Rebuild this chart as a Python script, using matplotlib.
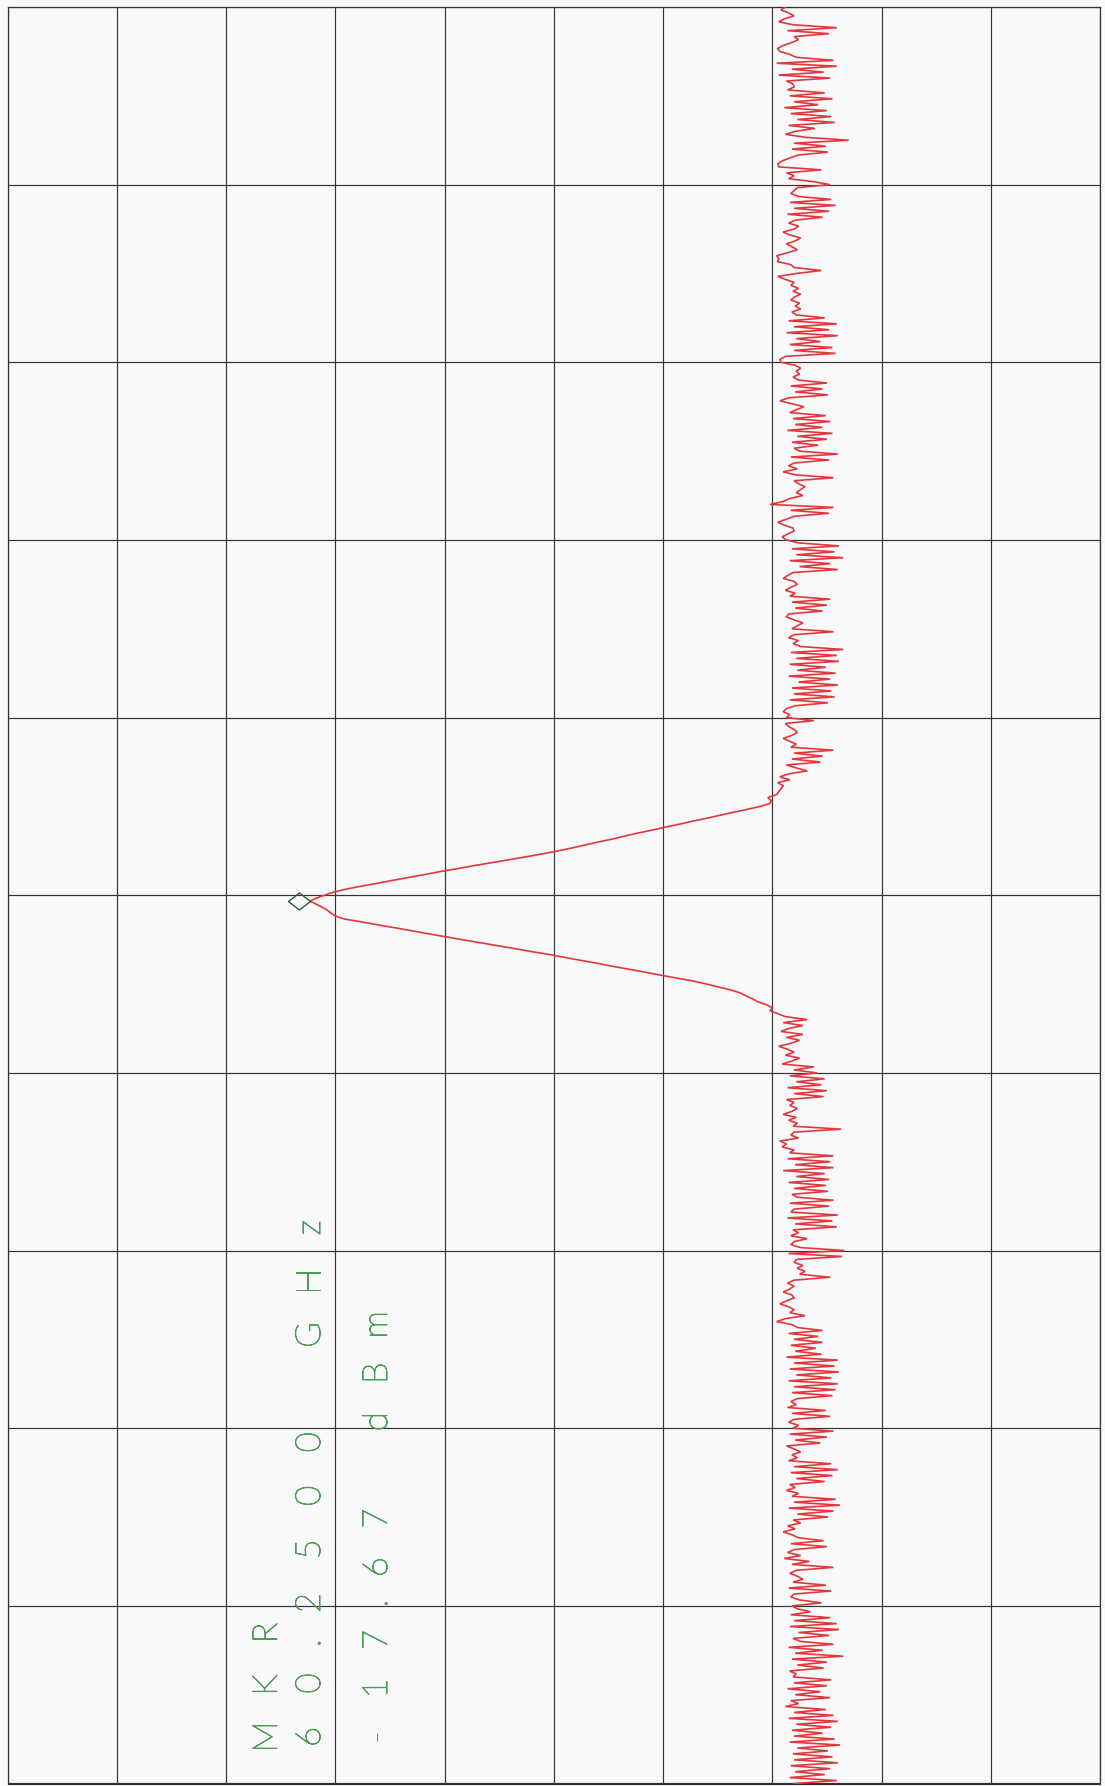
import numpy as np
import matplotlib
matplotlib.use("Agg")
import matplotlib.pyplot as plt
import matplotlib.patheffects as pe
from matplotlib.markers import MarkerStyle

# ---------------- data ----------------
START_GHZ = 60.20
STOP_GHZ = 60.30
REF_LEVEL_DBM = 10.0
DB_PER_DIV = 10.0
N_DIV = 10

# trace amplitude (dBm), listed from the top of the (rotated) plot downwards
trace_upper_noise_dbm = [
    -61.2, -60.8, -61.5, -62.0, -61.1, -60.6, -61.9, -65.9, -61.4, -65.2,
    -62.0, -62.4, -61.8, -61.0, -60.5, -60.7, -61.6, -62.2, -65.6, -60.4,
    -65.9, -61.8, -64.7, -60.6, -65.3, -61.3, -61.9, -62.0, -61.4, -64.8,
    -61.6, -65.5, -62.0, -64.2, -61.1, -65.0, -61.7, -65.4, -62.3, -65.7,
    -61.5, -63.9, -62.1, -61.2, -63.0, -67.0, -62.0, -64.9, -61.8, -65.1,
    -62.4, -61.6, -60.9, -60.5, -60.6, -64.5, -61.3, -62.0, -61.5, -63.8,
    -65.3, -62.3, -62.0, -61.7, -62.4, -65.4, -61.6, -65.8, -62.0, -65.2,
    -61.4, -64.6, -62.1, -61.5, -62.4, -62.0, -61.0, -61.6, -62.6, -62.1,
    -61.3, -61.8, -62.3, -61.4, -60.4, -60.6, -60.5, -61.7, -62.0, -64.5,
    -62.2, -60.5, -61.2, -62.0, -61.7, -62.4, -61.9, -62.6, -62.0, -61.7,
    -62.5, -62.1, -62.6, -61.8, -62.2, -64.8, -61.5, -65.9, -62.0, -65.2,
    -61.3, -66.0, -62.2, -64.4, -61.6, -65.5, -62.0, -65.8, -61.2, -60.7,
    -60.8, -62.1, -62.6, -62.2, -62.5, -61.9, -62.4, -65.0, -61.7, -64.6,
    -62.1, -65.1, -61.5, -60.7, -61.8, -62.9, -62.2, -61.6, -64.9, -61.9,
    -65.3, -62.1, -64.6, -61.4, -65.5, -62.3, -65.0, -61.8, -64.2, -62.0,
    -62.5, -66.0, -61.7, -65.2, -62.0, -61.5, -62.3, -61.0, -62.1, -65.6,
    -62.0, -62.4, -63.0, -62.6, -62.2, -62.8, -61.6, -61.0, -59.8, -65.6,
    -61.7, -65.2, -62.0, -61.3, -60.5, -61.1, -61.9, -62.0, -61.4, -60.9,
    -61.3, -62.4, -66.1, -61.8, -65.7, -62.2, -66.5, -61.6, -65.3, -62.5,
    -66.0, -61.9, -61.4, -61.0, -62.0, -62.3, -61.7, -61.2, -62.1, -61.6,
    -65.3, -61.8, -65.0, -62.1, -64.6, -61.5, -61.3, -62.0, -62.8, -62.3,
    -61.8, -65.6, -62.0, -61.5, -62.4, -61.9, -62.6, -66.5, -61.7, -65.9,
    -62.2, -66.1, -61.6, -64.9, -62.3, -65.8, -61.5, -65.3, -62.4, -66.0,
    -61.8, -65.4, -62.0, -65.7, -61.6, -65.1, -62.1, -61.3, -61.0, -61.6,
    -61.3, -63.8, -61.2, -61.5, -62.0, -62.3, -61.8, -61.0, -61.6, -62.2,
    -61.7, -65.6, -62.0, -64.6, -61.8, -64.4, -61.3, -62.2, -63.2, -61.5,
    -60.7, -61.6, -60.5, -61.0,
]

trace_signal_dbm = [
    -60.8, -60.6, -60.4, -59.6, -59.9, -59.8, -58.9, -57.7, -56.4, -55.2,
    -54.0, -52.7, -51.5, -50.2, -49.0, -47.7, -46.5, -45.4, -44.1, -42.9,
    -41.7, -40.4, -39.0, -37.5, -35.9, -34.3, -32.7, -31.2, -29.6, -28.2,
    -26.7, -25.2, -23.8, -22.3, -20.9, -19.8, -19.0, -18.25, -17.67, -18.25,
    -18.8, -19.25, -19.6, -20.0, -20.8, -22.4, -23.9, -25.5, -27.0, -28.5,
    -30.1, -31.6, -33.2, -34.8, -36.4, -37.9, -39.6, -41.0, -42.5, -44.0,
    -45.4, -46.9, -48.4, -49.8, -51.3, -52.8, -54.0, -55.1, -56.2, -57.1,
    -57.6, -58.2, -58.7, -59.5, -60.0, -59.8, -60.5,
]

trace_lower_noise_dbm = [
    -61.2, -63.2, -61.0, -62.8, -61.5, -60.8, -62.8, -61.3, -62.5, -61.7,
    -60.6, -61.4, -62.0, -61.2, -62.5, -61.8, -60.9, -63.8, -62.0, -64.1,
    -61.6, -64.8, -62.2, -64.5, -61.4, -65.0, -62.0, -64.7, -61.3, -62.0,
    -61.6, -62.3, -61.8, -61.0, -62.2, -61.5, -62.3, -61.9, -66.3, -62.0,
    -61.7, -62.4, -60.7, -61.3, -60.9, -62.0, -61.6, -65.6, -61.4, -65.3,
    -62.1, -65.6, -61.0, -64.8, -62.2, -65.2, -61.5, -64.9, -62.0, -65.1,
    -61.8, -62.3, -65.6, -61.6, -65.2, -62.0, -61.7, -66.0, -61.4, -65.5,
    -62.1, -65.9, -61.9, -62.4, -61.7, -63.2, -62.0, -61.7, -62.6, -66.6,
    -61.5, -66.4, -62.2, -62.0, -62.8, -62.3, -63.0, -62.5, -65.3, -62.0,
    -61.4, -62.0, -61.6, -61.0, -61.8, -62.0, -61.3, -60.7, -61.5, -62.0,
    -61.6, -63.0, -61.2, -60.4, -61.8, -62.3, -64.6, -61.5, -64.2, -62.0,
    -64.6, -61.7, -64.0, -62.1, -64.5, -61.3, -66.0, -62.0, -65.7, -61.6,
    -66.1, -62.2, -65.4, -61.5, -66.0, -62.0, -65.8, -61.8, -65.5, -62.3,
    -61.7, -62.2, -61.4, -64.9, -61.8, -65.3, -62.0, -61.5, -62.4, -61.9,
    -65.6, -61.6, -65.0, -62.1, -64.4, -61.3, -62.0, -62.6, -61.8, -62.3,
    -61.5, -65.4, -62.0, -66.0, -61.7, -65.5, -62.2, -64.8, -61.6, -62.1,
    -61.3, -62.4, -61.8, -65.8, -62.0, -66.2, -61.5, -65.6, -62.3, -65.1,
    -61.9, -62.6, -61.4, -62.1, -61.0, -61.8, -62.4, -64.7, -61.7, -65.0,
    -62.0, -61.4, -62.6, -61.1, -63.4, -61.8, -65.6, -62.2, -61.6, -62.3,
    -62.8, -61.9, -64.9, -61.5, -65.4, -62.0, -61.7, -62.5, -64.5, -61.8,
    -62.3, -63.5, -61.7, -65.3, -62.0, -65.9, -61.6, -66.1, -62.4, -65.2,
    -61.9, -62.6, -65.6, -61.5, -64.6, -62.1, -66.5, -61.8, -65.0, -62.3,
    -64.7, -61.6, -62.2, -61.9, -65.4, -62.0, -65.0, -61.4, -64.4, -62.1,
    -65.3, -61.7, -62.4, -61.2, -64.9, -62.0, -65.6, -61.5, -66.0, -62.2,
    -65.4, -61.8, -64.6, -62.0, -65.7, -61.6, -66.2, -62.3, -65.1, -61.9,
    -65.5, -62.0, -66.0, -61.7, -65.3, -62.1, -64.8, -61.6, -65.9, -62.0,
]

marker_title = "MKR"
marker_freq_text = "60.2500 GHz"
marker_amp_text = "-17.67 dBm"

# ---------------- figure ----------------
W, H = 1105, 1786
fig = plt.figure(figsize=(W / 100, H / 100), dpi=100)
BG = "#f9f9fb"
fig.patch.set_facecolor(BG)

ax_l, ax_r, ax_t, ax_b = 7.5, 1100.0, 7.0, 1783.5
ax = fig.add_axes([ax_l / W, 1 - ax_b / H, (ax_r - ax_l) / W, (ax_b - ax_t) / H])
ax.set_facecolor(BG)

amp = np.array(trace_upper_noise_dbm + trace_signal_dbm + trace_lower_noise_dbm)
freq = np.linspace(STOP_GHZ, START_GHZ, len(amp))  # sweep points, top -> bottom

GRID_C = "#333333"
ax.plot(amp, freq, color="#e2383c", lw=1.2, solid_joinstyle="miter", zorder=3)

ax.set_xlim(REF_LEVEL_DBM, REF_LEVEL_DBM - N_DIV * DB_PER_DIV)
ax.set_ylim(START_GHZ, STOP_GHZ)
ax.set_xticks(np.arange(N_DIV + 1) * -DB_PER_DIV + REF_LEVEL_DBM)
ax.set_yticks(np.linspace(START_GHZ, STOP_GHZ, N_DIV + 1))
ax.grid(True, color=GRID_C, lw=0.85, zorder=1)
ax.tick_params(length=0, labelbottom=False, labelleft=False)
for s in ax.spines.values():
    s.set_color(GRID_C)
    s.set_linewidth(0.9)

# marker diamond, right tip touching the trace maximum
ipk = int(np.argmax(amp))
diamond = MarkerStyle([(0, 0), (-1, 0.77), (-2, 0), (-1, -0.77), (0, 0)])
ax.plot([amp[ipk]], [freq[ipk]], linestyle="none", marker=diamond, ms=31.7,
        mfc="none", mec="#2f5a34", mew=1.0, zorder=4)

# marker readout, plotter style (rotated, wide character pitch)
TXT_C = "#4c9c54"
FONT = ["Lato", "DejaVu Sans"]
THICKEN = [pe.withStroke(linewidth=0.7, foreground=TXT_C)]


def plotter_text(s, x_base, y_first_center, pitch, size):
    y = y_first_center + pitch / 2
    for ch in s:
        w = 0.5 if ch == "." else 1.0
        yc = y - w * pitch / 2
        if ch != " ":
            fig.text(x_base / W, 1 - yc / H, ch, rotation=90, rotation_mode="anchor",
                     ha="center", va="baseline", color=TXT_C, fontsize=size,
                     family=FONT, fontweight="light", path_effects=THICKEN)
        y -= w * pitch


plotter_text(marker_title, 277, 1737, 52, 25)
plotter_text(marker_freq_text, 320, 1737, 53.6, 25)
plotter_text(marker_amp_text, 387, 1737, 48.5, 25)

fig.savefig("out.png", dpi=100, facecolor=BG)
